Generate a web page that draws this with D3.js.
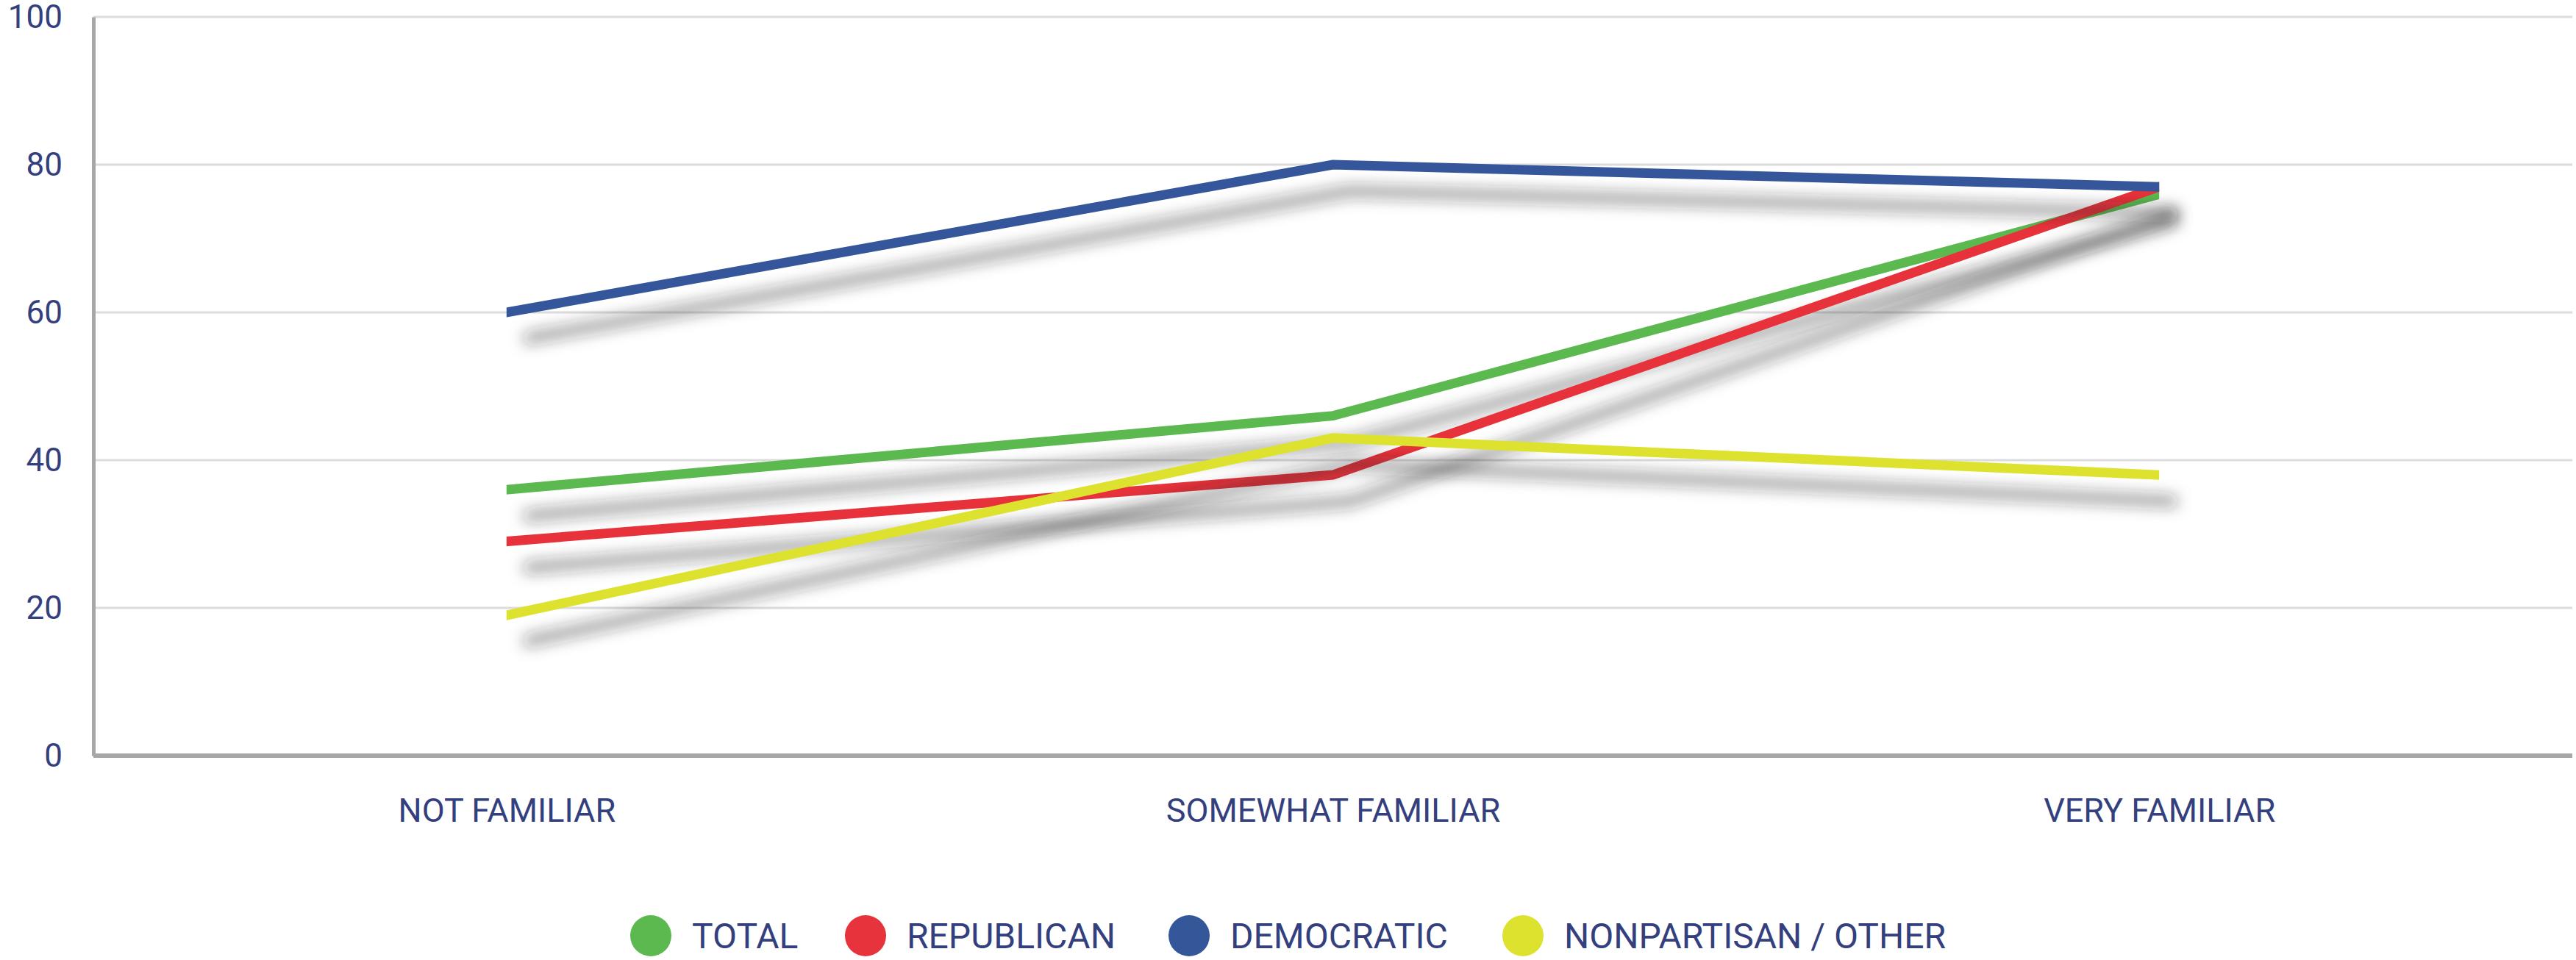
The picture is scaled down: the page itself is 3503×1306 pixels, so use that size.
<!DOCTYPE html>
<html lang="en">
<head>
    <meta charset="UTF-8">
    <title>Familiarity by party</title>
    <style>
        body {
            margin: 0;
            background: #fff;
            overflow: hidden;
        }

        svg {
            display: block;
        }

        text {
            font-family: Roboto, sans-serif;
            fill: #34407e;
        }
    </style>
</head>
<body>
<svg></svg>

<script src="https://d3js.org/d3.v7.min.js"></script>
<script>
    // données
    const categories = ["NOT FAMILIAR", "SOMEWHAT FAMILIAR", "VERY FAMILIAR"];
    const yTicks = [0, 20, 40, 60, 80, 100];

    const total = [36, 46, 76];
    const republican = [29, 38, 77];
    const democratic = [60, 80, 77];
    const nonpartisan = [19, 43, 38];

    const seriesNames = ["TOTAL", "REPUBLICAN", "DEMOCRATIC", "NONPARTISAN / OTHER"];
    const seriesColors = ["#5cb950", "#e7333b", "#34579a", "#dde22f"];

    const series = [total, republican, democratic, nonpartisan].map((values, i) => ({
        name: seriesNames[i],
        color: seriesColors[i],
        values: values
    }));

    const width = 3503;
    const height = 1306;
    const margin = {top: 23, right: 5, bottom: 278, left: 127};

    const svg = d3.select("svg")
        .attr("width", width)
        .attr("height", height);

    const x = d3.scalePoint()
        .domain(categories)
        .range([margin.left, width - margin.right])
        .padding(0.5);

    const y = d3.scaleLinear()
        .domain([0, 100])
        .range([height - margin.bottom, margin.top]);

    // ombre portée des courbes
    const defs = svg.append("defs");
    defs.append("filter")
        .attr("id", "shadow")
        .attr("x", "-10%").attr("y", "-50%")
        .attr("width", "130%").attr("height", "250%")
        .append("feDropShadow")
        .attr("dx", 24)
        .attr("dy", 36)
        .attr("stdDeviation", 10)
        .attr("flood-color", "#222")
        .attr("flood-opacity", 0.5);

    defs.append("clipPath")
        .attr("id", "clip")
        .append("rect")
        .attr("x", x(categories[0]))
        .attr("y", 0)
        .attr("width", x(categories[categories.length - 1]) - x(categories[0]))
        .attr("height", height);

    // grille
    svg.append("g")
        .selectAll("line")
        .data(yTicks.filter(d => d > 0))
        .join("line")
        .attr("x1", margin.left)
        .attr("x2", width - margin.right)
        .attr("y1", d => y(d))
        .attr("y2", d => y(d))
        .attr("stroke", "#dcdbde")
        .attr("stroke-width", 3);

    // axe Y
    const yAxis = svg.append("g")
        .attr("transform", `translate(${margin.left},0)`)
        .call(d3.axisLeft(y).tickValues(yTicks).tickSize(0).tickPadding(42));
    yAxis.select(".domain")
        .attr("stroke", "#a8a6a8")
        .attr("stroke-width", 5);
    yAxis.selectAll("text")
        .attr("font-size", 44)
        .attr("font-family", "Roboto, sans-serif")
        .attr("fill", "#34407e");

    // axe X
    const xAxis = svg.append("g")
        .attr("transform", `translate(0,${y(0)})`)
        .call(d3.axisBottom(x).tickSize(0).tickPadding(58));
    xAxis.select(".domain")
        .attr("d", `M${margin.left},0H${width - margin.right}`)
        .attr("stroke", "#a8a6a8")
        .attr("stroke-width", 6);
    xAxis.selectAll("text")
        .attr("font-size", 45)
        .attr("font-family", "Roboto, sans-serif")
        .attr("fill", "#34407e");

    // courbes
    const line = d3.line()
        .x((d, i) => x(categories[i]))
        .y(d => y(d));

    series.forEach(s => {
        svg.append("g")
            .attr("filter", "url(#shadow)")
            .append("path")
            .attr("clip-path", "url(#clip)")
            .attr("d", line(s.values))
            .attr("fill", "none")
            .attr("stroke", s.color)
            .attr("stroke-width", 13)
            .attr("stroke-linejoin", "miter")
            .attr("stroke-linecap", "square");
    });

    // légende
    const legendX = [885, 1177, 1617, 2071];
    const legend = svg.append("g")
        .selectAll("g")
        .data(series)
        .join("g")
        .attr("transform", (d, i) => `translate(${legendX[i]},1273)`);

    legend.append("circle")
        .attr("r", 28)
        .attr("fill", d => d.color);

    legend.append("text")
        .attr("x", 56)
        .attr("dy", "0.35em")
        .attr("font-size", 48)
        .text(d => d.name);
</script>
</body>
</html>
